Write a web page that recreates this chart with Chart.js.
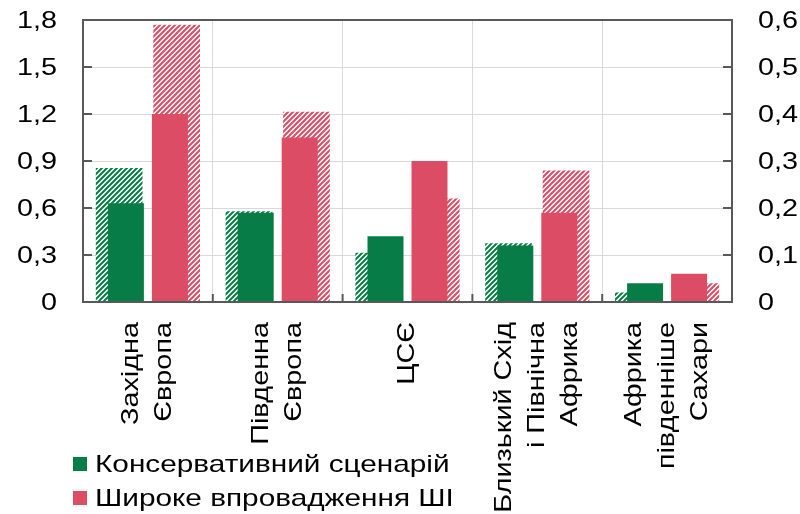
<!DOCTYPE html>
<html lang="uk">
<head>
<meta charset="utf-8">
<title>Регіони</title>
<script src="https://cdn.jsdelivr.net/npm/chart.js@4.4.1/dist/chart.umd.min.js"></script>
<style>
  html, body { margin: 0; padding: 0; background: #fff; overflow: hidden; }
  #wrap { position: relative; width: 800px; height: 514px; }
  #legend { position: absolute; left: 73px; top: 447px; font-family: "Liberation Sans", Arial, sans-serif; font-size: 24px; color: #000; }
  #legend .row { display: flex; align-items: center; height: 34px; white-space: nowrap; }
  #legend .box { width: 14px; height: 14px; margin-right: 8px; flex: none; }
  #legend .txt { display: inline-block; transform: scaleX(1.24); transform-origin: 0 50%; }
</style>
</head>
<body>
<div id="wrap">
  <canvas id="c" width="800" height="514"></canvas>
  <div id="legend"></div>
</div>
<script>
// Regions (each label split into its drawn lines)
const categories = [
  ['Західна', 'Європа'],
  ['Південна', 'Європа'],
  ['ЦСЄ'],
  ['Близький Схід', 'і Північна', 'Африка'],
  ['Африка', 'південніше', 'Сахари']
];

// Left axis series (solid bars)
const conservative = [0.63, 0.57, 0.42, 0.36, 0.12];
const wideAI       = [1.20, 1.05, 0.90, 0.57, 0.18];

// Right axis series (hatched bars)
const conservativeRight = [0.285, 0.193, 0.105, 0.125, 0.02];
const wideAIRight       = [0.59, 0.405, 0.22, 0.28, 0.04];

// Tick labels
const leftTickLabels  = ['0', '0,3', '0,6', '0,9', '1,2', '1,5', '1,8'];
const rightTickLabels = ['0', '0,1', '0,2', '0,3', '0,4', '0,5', '0,6'];

const seriesNames = ['Консервативний сценарій', 'Широке впровадження ШІ'];

const GREEN = '#087c47';
const RED = '#dc4c65';
const AXIS = '#595959';
const GRID = '#d9d9d9';
const FONT = '"Liberation Sans", Arial, sans-serif';
const TEXT_STRETCH = 1.2;

function hatch(color) {
  const p = 5;
  const c = document.createElement('canvas');
  c.width = p; c.height = p;
  const g = c.getContext('2d');
  g.fillStyle = '#fff';
  g.fillRect(0, 0, p, p);
  g.strokeStyle = color;
  g.lineWidth = 2;
  g.beginPath();
  g.moveTo(-1, p + 1); g.lineTo(p + 1, -1);
  g.moveTo(-1, 1); g.lineTo(1, -1);
  g.moveTo(p - 1, p + 1); g.lineTo(p + 1, p - 1);
  g.stroke();
  return g.createPattern(c, 'repeat');
}

// Frame around the plot with inward tick marks
const framePlugin = {
  id: 'frame',
  afterDatasetsDraw(chart) {
    const { ctx, chartArea: a, scales } = chart;
    ctx.save();
    ctx.strokeStyle = AXIS;
    ctx.lineWidth = 2;
    ctx.beginPath();
    ctx.moveTo(a.left, a.top); ctx.lineTo(a.right, a.top);
    ctx.moveTo(a.left, a.bottom); ctx.lineTo(a.right, a.bottom);
    ctx.moveTo(a.left, a.top - 1); ctx.lineTo(a.left, a.bottom + 1);
    ctx.moveTo(a.right, a.top - 1); ctx.lineTo(a.right, a.bottom + 1);
    scales.y.ticks.forEach(t => {
      const y = scales.y.getPixelForValue(t.value);
      ctx.moveTo(a.left, y); ctx.lineTo(a.left + 9, y);
    });
    scales.y2.ticks.forEach(t => {
      const y = scales.y2.getPixelForValue(t.value);
      ctx.moveTo(a.right - 9, y); ctx.lineTo(a.right, y);
    });
    const xs = scales.x;
    for (let i = 1; i < categories.length; i++) {
      const x = (xs.getPixelForValue(i - 1) + xs.getPixelForValue(i)) / 2;
      ctx.moveTo(x, a.bottom); ctx.lineTo(x, a.bottom - 8);
    }
    ctx.stroke();
    ctx.restore();
  }
};

// Axis labels: value labels on both sides, vertical category labels below
const labelPlugin = {
  id: 'axislabels',
  afterDraw(chart) {
    const { ctx, scales, chartArea: a } = chart;
    ctx.save();
    ctx.font = '24px ' + FONT;
    ctx.fillStyle = '#000';
    ctx.textBaseline = 'middle';

    const drawAt = (text, x, y, align, rot) => {
      ctx.save();
      ctx.translate(x, y);
      if (rot) ctx.rotate(rot);
      ctx.scale(TEXT_STRETCH, 1);
      ctx.textAlign = align;
      ctx.fillText(text, 0, 0);
      ctx.restore();
    };

    scales.y.ticks.forEach((t, i) => {
      drawAt(leftTickLabels[i], a.left - 26, scales.y.getPixelForValue(t.value) + 1, 'right');
    });
    scales.y2.ticks.forEach((t, i) => {
      drawAt(rightTickLabels[i], a.right + 26, scales.y2.getPixelForValue(t.value) + 1, 'left');
    });

    const lh = 33;
    const top = a.bottom + 20;
    chart.data.labels.forEach((lines, i) => {
      const cx = scales.x.getPixelForValue(i);
      const n = lines.length;
      lines.forEach((line, j) => {
        drawAt(line, cx + (j - (n - 1) / 2) * lh, top, 'right', -Math.PI / 2);
      });
    });
    ctx.restore();
  }
};

// Solid and hatched bars of one scenario share a slot in each category
const solidBar = { categoryPercentage: 0.678, barPercentage: 0.818, borderWidth: 0, yAxisID: 'y', order: 1 };
const hatchBar = { categoryPercentage: 0.886, barPercentage: 0.812, borderWidth: 0, yAxisID: 'y2', order: 2 };

const chart = new Chart(document.getElementById('c'), {
  type: 'bar',
  data: {
    labels: categories,
    datasets: [
      { ...solidBar, stack: 'cons', label: seriesNames[0], data: conservative, backgroundColor: GREEN },
      { ...solidBar, stack: 'wide', label: seriesNames[1], data: wideAI, backgroundColor: RED },
      { ...hatchBar, stack: 'cons', label: seriesNames[0] + ' (права вісь)', data: conservativeRight, backgroundColor: hatch(GREEN) },
      { ...hatchBar, stack: 'wide', label: seriesNames[1] + ' (права вісь)', data: wideAIRight, backgroundColor: hatch(RED) }
    ]
  },
  options: {
    responsive: false,
    animation: false,
    devicePixelRatio: 1,
    layout: { padding: { top: 20, left: 0, right: 0, bottom: 0 } },
    plugins: { legend: { display: false }, tooltip: { enabled: false } },
    scales: {
      x: {
        type: 'category',
        offset: true,
        grid: { display: true, offset: true, color: GRID, lineWidth: 1, drawTicks: false },
        border: { display: false },
        ticks: { display: false },
        afterFit(s) { s.height = 212; }
      },
      y: {
        position: 'left',
        min: 0, max: 1.8,
        ticks: { stepSize: 0.3, display: false },
        grid: { color: GRID, lineWidth: 1, drawTicks: false },
        border: { display: false },
        afterFit(s) { s.width = 83; }
      },
      y2: {
        position: 'right',
        min: 0, max: 0.6,
        ticks: { stepSize: 0.1, display: false },
        grid: { display: false, drawTicks: false },
        border: { display: false },
        afterFit(s) { s.width = 68; }
      }
    }
  },
  plugins: [framePlugin, labelPlugin]
});

// Legend for the two scenarios
const legend = document.getElementById('legend');
chart.data.datasets.slice(0, 2).forEach(ds => {
  const row = document.createElement('div');
  row.className = 'row';
  const box = document.createElement('span');
  box.className = 'box';
  box.style.background = ds.backgroundColor;
  const txt = document.createElement('span');
  txt.className = 'txt';
  txt.textContent = ds.label;
  row.appendChild(box);
  row.appendChild(txt);
  legend.appendChild(row);
});
</script>
</body>
</html>
